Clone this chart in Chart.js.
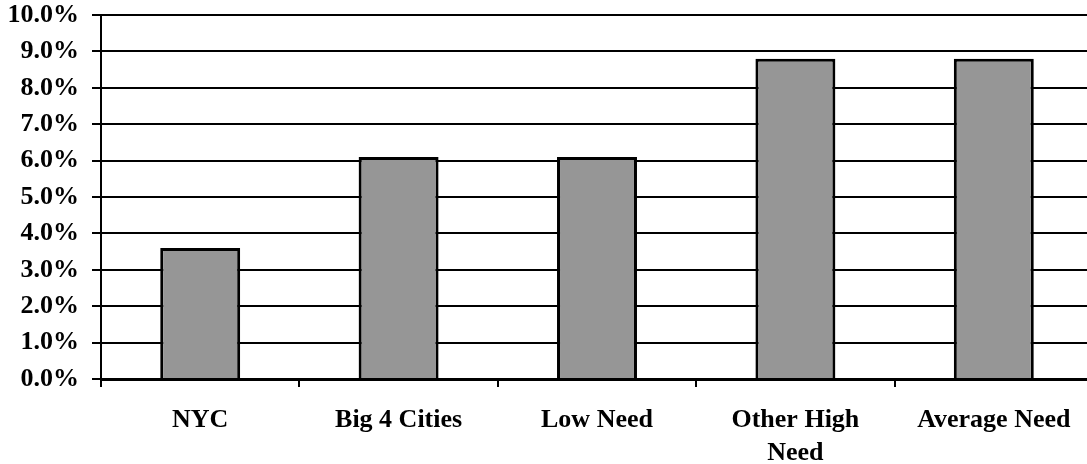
<!DOCTYPE html>
<html>
<head>
<meta charset="utf-8">
<script src="https://cdn.jsdelivr.net/npm/chart.js@4/dist/chart.umd.min.js"></script>
<style>
html,body{margin:0;padding:0;background:#fff;overflow:hidden;}
#wrap{position:absolute;left:0;top:0;width:1093px;height:464px;}
</style>
</head>
<body>
<div id="wrap"><canvas id="c" width="1093" height="464"></canvas></div>
<script>
const categories = ["NYC", "Big 4 Cities", "Low Need", ["Other High", "Need"], "Average Need"];
const values = [3.6, 6.1, 6.1, 8.8, 8.8];
const yTicks = [0, 1, 2, 3, 4, 5, 6, 7, 8, 9, 10];

const FONT_Y = {family: "'Liberation Serif', 'Times New Roman', serif", weight: "bold", size: 26, lineHeight: 1.15};
const FONT_X = {family: "'Liberation Serif', 'Times New Roman', serif", weight: "bold", size: 26, lineHeight: 1.3};

new Chart(document.getElementById('c'), {
  type: 'bar',
  data: {
    labels: categories,
    datasets: [{
      data: values,
      backgroundColor: '#969696',
      borderColor: '#000000',
      borderWidth: 3,
      barPercentage: 0.403,
      categoryPercentage: 1.0
    }]
  },
  options: {
    responsive: false,
    animation: false,
    devicePixelRatio: 1,
    layout: {padding: {top: 0, left: 0, right: 0, bottom: 0}},
    plugins: {legend: {display: false}, tooltip: {enabled: false}},
    scales: {
      y: {
        min: 0, max: 10,
        afterBuildTicks: (axis) => { axis.ticks = yTicks.map(v => ({value: v})); },
        afterFit: (axis) => { axis.width = 101; axis.paddingTop = 15; axis.paddingBottom = 0; },
        ticks: {
          color: '#000',
          font: FONT_Y,
          padding: 13,
          callback: (v) => Number(v).toFixed(1) + '%'
        },
        grid: {color: '#000', lineWidth: 2, tickLength: 9, drawTicks: true},
        border: {color: '#000', width: 2}
      },
      x: {
        afterFit: (axis) => { axis.height = 85; },
        ticks: {
          color: '#000',
          font: FONT_X,
          padding: 16,
          maxRotation: 0,
          autoSkip: false
        },
        grid: {offset: true, drawOnChartArea: false, color: '#000', lineWidth: 2, tickLength: 8},
        border: {color: '#000', width: 3}
      }
    }
  }
});
</script>
</body>
</html>
